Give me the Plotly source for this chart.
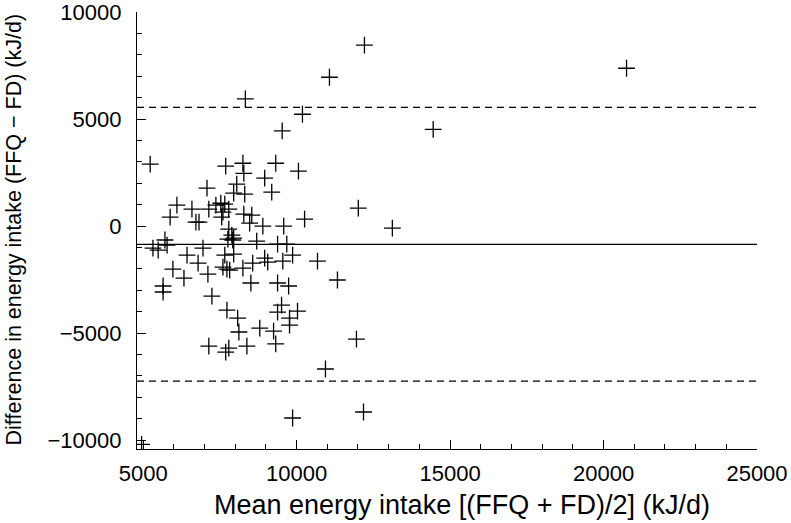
import plotly.graph_objects as go

# Mean of FFQ and FD (kJ/d)
mean_intake = [
    12210, 11070, 8330, 10190, 9530, 14450, 20750,
    5230, 7690, 8250, 8280, 9320, 10060, 8960, 8050, 7080, 7950, 8310, 9190,
    6100, 6590, 7140, 7370, 7530, 7660, 7790, 7600, 5880, 7560, 8280, 8540,
    6720, 6820, 8470, 8900, 9580, 10260, 7790, 7890, 7950, 7760, 7920, 8700,
    9380, 9680, 5710, 5780, 5320, 5490, 6950,
    12010, 13120, 10680,
    6430, 7660, 7950, 8570, 8960, 9060, 9550, 9870, 5970, 6790, 7600, 7730,
    7820, 8250, 6330, 7110, 8510, 9380, 9740, 5650, 5650, 7240, 7730, 8080,
    8120, 8800, 9250, 9510, 9380, 10030, 9770, 9770, 7140, 7690, 7790, 8380,
    9320,
    11330, 11950, 10940, 12180, 9870, 4950,
]
# Difference FFQ - FD (kJ/d)
diff_intake = [
    8460, 6960, 5950, 5230, 4450, 4520, 7380,
    2900, 2800, 2940, 2470, 2940, 2570, 2240, 1960, 1780, 1540, 1500, 1590,
    980, 790, 790, 980, 1070, 1030, 790, 650, 420, 420, 560, 510,
    190, 190, 140, 0, 0, 330, -140, -420, -560, -610, -650, -700,
    -840, -840, -650, -890, -1030, -1120, -1030,
    840, -90, -1640,
    -1360, -1360, -1310, -1730, -1500, -1680, -1640, -1360, -2010, -1730, -1920, -2010,
    -2060, -1960, -2430, -2240, -2660, -2660, -2800, -2800, -3080, -3270, -3930, -4300,
    -4950, -4770, -4910, -3690, -4020, -3970, -4300, -4630, -5610, -5890, -5700, -5610,
    -5510,
    -2520, -5280, -6680, -8690, -8970, -10200,
]

bias = -850
upper_loa = 5550
lower_loa = -7250

x_range = [4800, 25000]
y_range = [-10420, 10010]

x_ticks = [5000, 10000, 15000, 20000, 25000]
x_ticklabels = ["5000", "10000", "15000", "20000", "25000"]
y_ticks = [-10000, -5000, 0, 5000, 10000]
y_ticklabels = ["\u221210000", "\u22125000", "0", "5000", "10000"]

x_title = "Mean energy intake [(FFQ + FD)/2] (kJ/d)"
y_title = "Difference in energy intake (FFQ \u2212 FD) (kJ/d)"

fig = go.Figure()
fig.add_trace(go.Scatter(
    x=mean_intake, y=diff_intake, mode="markers",
    marker=dict(symbol="cross-thin", size=12, line=dict(color="black", width=1.3)),
    showlegend=False, cliponaxis=True, hoverinfo="skip",
))
fig.add_trace(go.Scatter(
    x=x_range, y=[bias, bias], mode="lines",
    line=dict(color="black", width=1.2), showlegend=False, hoverinfo="skip",
))
for v in (upper_loa, lower_loa):
    fig.add_trace(go.Scatter(
        x=x_range, y=[v, v], mode="lines",
        line=dict(color="black", width=1.2, dash="7px,5px"), showlegend=False, hoverinfo="skip",
    ))

font = "Liberation Sans, Arial, Helvetica, sans-serif"
fig.update_layout(
    width=791, height=523,
    margin=dict(l=137, r=34, t=12, b=74),
    paper_bgcolor="white", plot_bgcolor="white",
    font=dict(family=font, size=22, color="black"),
    annotations=[
        dict(text=x_title, xref="paper", yref="paper", x=0.524, y=-0.128,
             xanchor="center", yanchor="middle", showarrow=False, font=dict(size=27)),
        dict(text=y_title, xref="paper", yref="paper", x=-0.198, y=0.503,
             xanchor="center", yanchor="middle", showarrow=False, textangle=-90,
             font=dict(size=21.5)),
    ],
)
fig.update_xaxes(
    range=x_range, tickvals=x_ticks, ticktext=x_ticklabels,
    showgrid=False, zeroline=False, showline=True, linecolor="black", linewidth=1.3,
    ticks="inside", ticklen=9, tickwidth=1.3, tickcolor="black",
    minor=dict(dtick=1000, tick0=0, ticks="inside", ticklen=5, tickwidth=1.2, tickcolor="black"),
    tickfont=dict(size=22), ticklabelstandoff=4, automargin=False, ticklabeloverflow="allow",
)
fig.update_yaxes(
    range=y_range, tickvals=y_ticks, ticktext=y_ticklabels,
    showgrid=False, zeroline=False, showline=True, linecolor="black", linewidth=1.3,
    ticks="inside", ticklen=9, tickwidth=1.3, tickcolor="black",
    minor=dict(dtick=1000, tick0=0, ticks="inside", ticklen=5, tickwidth=1.2, tickcolor="black"),
    tickfont=dict(size=22), ticklabelstandoff=10, automargin=False, ticklabeloverflow="allow",
)

fig.write_html("out.html", config={"displayModeBar": False},
               post_script="document.body.style.margin='0';")
